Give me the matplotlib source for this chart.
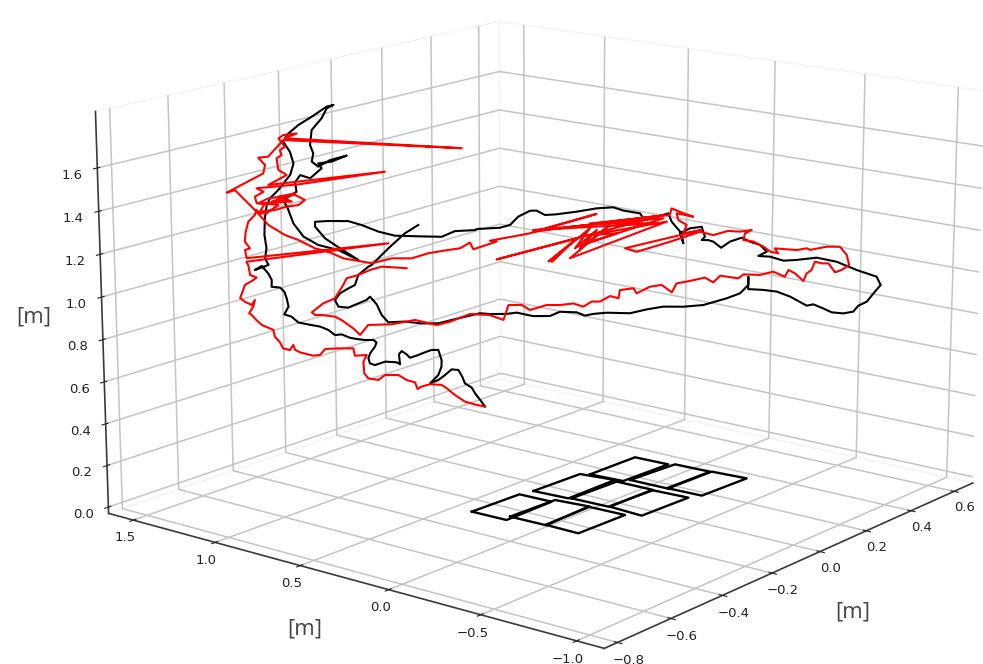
import numpy as np
import matplotlib
matplotlib.use('Agg')
import matplotlib.pyplot as plt

# trajectories in millimetres
black_x=[-188,-194,-205,-211,-223,-228,-234,-246,-258,-270,-284,-270,-264,-264,-269,-281,-293,-307,-319,-325,-333,-338,-336,-342,-362,-380,-389,-391,-388,-380,-377,-382,-397,-411,-423,-437,-449,-460,-474,-495,-512,-523,-536,-528,-531,-535,-542,-557,-556,-562,-573,-585,-561,-567,-564,-567,-566,-562,-556,-542,-521,-515,-521,-532,-526,-506,-483,-457,-445,-457,-466,-483,-486,-481,-484,-473,-453,-424,-450,-473,-467,-487,-504,-513,-511,-534,-526,-517,-500,-475,-441,-406,-438,-463,-480,-480,-457,-423,-400,-371,-343,-296,-262,-239,-204,-201,-161,-143,-129,-108,-97,-82,-62,-27,8,37,55,84,90,113,133,139,157,160,154,172,172,192,198,193,204,213,227,243,263,278,296,308,293,314,338,361,397,432,468,492,504,512,502,488,473,464,446,425,410,392,381,351,327,303,276,276,276,262,238,197,161,126,103,126,97,67,26,3,-12,-27,-56,-73,-103,-132,-149,-179,-196,-234,-269,-298,-327,-356,-367,-376,-387,-393,-407,-425,-442,-448,-439,-424,-413,-407,-389,-384,-354,-325,-302]
black_y=[454,465,486,496,518,526,539,560,581,602,629,602,592,591,602,623,644,671,692,702,718,727,724,734,771,803,819,824,818,802,797,807,834,860,881,907,928,949,975,1012,1043,1064,1086,1073,1078,1085,1098,1124,1124,1134,1154,1175,1133,1143,1138,1144,1141,1135,1124,1098,1060,1049,1059,1079,1068,1032,990,943,922,943,959,991,997,987,992,972,935,883,930,972,962,998,1029,1045,1041,1083,1070,1053,1022,976,914,851,908,955,985,985,943,881,839,787,735,651,588,546,483,478,404,372,346,309,288,262,225,161,98,45,13,-40,-51,-94,-131,-142,-174,-180,-169,-200,-200,-238,-249,-238,-260,-276,-301,-329,-367,-394,-426,-448,-421,-459,-502,-545,-610,-675,-740,-784,-806,-819,-801,-775,-748,-732,-700,-662,-634,-602,-580,-526,-482,-439,-390,-390,-390,-364,-321,-246,-182,-117,-75,-117,-64,-10,64,107,134,160,214,246,299,352,384,437,469,537,601,654,707,759,780,795,816,827,853,885,916,926,910,884,863,852,820,810,757,704,662]
black_z=[424,448,489,517,539,572,604,608,582,559,544,583,623,654,703,704,694,679,670,687,703,688,640,650,655,640,649,673,697,728,748,760,761,767,774,791,789,814,831,843,854,882,894,930,969,1001,1021,1026,1058,1089,1125,1107,1129,1160,1207,1270,1347,1409,1440,1477,1546,1599,1653,1700,1731,1775,1812,1857,1864,1849,1804,1751,1682,1643,1605,1581,1610,1629,1603,1596,1573,1528,1544,1511,1467,1430,1391,1320,1257,1216,1190,1140,1198,1246,1302,1325,1327,1324,1304,1271,1250,1243,1239,1264,1266,1271,1274,1286,1324,1350,1350,1328,1330,1340,1353,1356,1339,1324,1300,1306,1321,1281,1224,1177,1225,1247,1247,1253,1206,1190,1189,1181,1151,1179,1196,1176,1159,1126,1107,1102,1081,1083,1091,1069,1027,1004,992,951,920,873,855,827,820,827,847,868,862,908,934,944,950,1009,970,931,909,880,875,878,869,878,867,851,857,853,846,863,868,849,851,870,865,867,872,851,830,832,843,842,877,929,966,951,936,917,923,955,986,1008,1023,1070,1108,1115,1191,1260,1297]
red_x=[-188,-206,-223,-241,-255,-264,-284,-299,-306,-310,-325,-339,-363,-374,-392,-399,-400,-394,-415,-417,-443,-466,-475,-487,-510,-518,-521,-527,-539,-544,-553,-555,-575,-584,-592,-596,-589,-586,-592,-603,-611,-602,-588,-582,-593,-596,-599,-354,-598,-601,-592,-601,-599,-594,-583,-580,-574,-563,-542,-576,-559,-513,-497,-508,-528,-548,-574,-565,-519,-542,-513,-554,-525,-556,-579,-582,-567,-579,-507,-359,-519,-559,-527,-541,-544,-535,-538,-529,-540,-531,-509,-529,-226,-532,-558,-575,-564,-567,-630,-616,-580,-560,-532,-509,-481,-458,-432,-406,-383,-349,-314,-285,-250,-230,-213,-207,-166,-178,-108,8,-103,125,-167,-27,-76,-50,-71,-39,-4,-30,8,-21,31,-39,131,-4,43,-27,125,-103,113,-4,136,139,160,177,148,151,166,160,192,58,78,137,189,213,239,260,281,269,266,284,302,314,328,322,361,379,385,414,438,450,455,442,430,418,406,394,388,379,374,359,347,341,320,297,267,258,226,214,199,173,149,141,123,102,79,73,49,47,32,14,0,-15,-33,-56,-79,-109,-123,-146,-155,-179,-213,-248,-272,-309,-350,-391,-405,-417,-437,-448,-471,-483,-488,-468,-448,-433,-427,-407,-386,-366,-337,-323]
red_y=[454,486,518,550,576,592,629,656,669,677,703,730,772,793,825,837,840,829,866,871,918,960,977,998,1039,1055,1060,1071,1092,1102,1117,1122,1158,1174,1189,1197,1183,1177,1188,1209,1224,1208,1181,1171,1191,1196,1201,756,1201,1205,1190,1205,1202,1193,1172,1166,1156,1135,1099,1161,1129,1046,1015,1036,1073,1109,1156,1140,1057,1098,1046,1119,1067,1124,1166,1171,1144,1165,1035,764,1056,1128,1071,1096,1101,1085,1090,1074,1094,1079,1037,1074,524,1079,1127,1158,1137,1143,1258,1232,1166,1131,1080,1038,987,945,898,851,810,746,684,631,568,531,499,489,415,436,309,98,299,-115,415,161,251,203,240,182,119,166,97,150,55,182,-126,119,34,161,-115,299,-94,119,-136,-141,-179,-211,-157,-163,-190,-179,-238,7,-31,-137,-233,-275,-323,-361,-398,-377,-372,-404,-437,-459,-485,-474,-544,-577,-588,-641,-684,-707,-715,-691,-670,-648,-626,-604,-594,-578,-568,-540,-519,-508,-470,-427,-374,-358,-299,-277,-250,-202,-159,-144,-111,-74,-31,-21,22,27,54,86,113,139,171,214,256,309,336,378,394,437,500,564,606,675,749,823,849,870,906,927,969,990,1000,963,926,900,889,852,815,778,726,700]
red_z=[424,436,451,485,518,535,540,530,519,551,564,589,591,568,578,602,658,689,688,723,725,724,696,694,712,724,748,724,733,762,790,822,847,871,896,904,935,966,943,959,976,1038,1060,1071,1084,1131,1147,1215,1163,1202,1209,1241,1287,1334,1364,1387,1371,1370,1408,1418,1440,1452,1428,1405,1399,1385,1379,1417,1422,1446,1460,1424,1430,1416,1418,1449,1471,1488,1501,1550,1511,1502,1546,1570,1624,1639,1662,1677,1716,1731,1737,1716,1650,1708,1633,1629,1595,1556,1471,1482,1379,1316,1267,1242,1201,1183,1150,1136,1123,1144,1141,1163,1176,1182,1208,1176,1209,1214,1244,1327,1251,1313,1125,1214,1108,1161,1107,1184,1260,1167,1251,1167,1273,1121,1282,1228,1233,1175,1298,1259,1275,1283,1313,1344,1319,1302,1320,1288,1263,1224,1238,1161,1143,1186,1230,1212,1230,1225,1231,1216,1185,1176,1151,1126,1117,1141,1130,1137,1129,1142,1140,1100,1052,1029,1018,1062,1063,1072,1033,1017,981,1019,1036,1004,1030,1016,1021,1003,1018,987,1011,997,987,945,982,975,945,970,963,924,936,911,912,889,906,900,902,881,906,907,837,862,870,836,822,849,832,832,786,818,859,876,886,887,900,941,963,1025,1056,1070,1092,1106,1099,1095]
# floor rectangles, four corners each, metres
rect_x=[-0.319,-0.138,-0.135,-0.317,-0.291,-0.119,-0.107,-0.289,-0.287,-0.110,-0.106,-0.289,-0.095,0.089,0.104,-0.088,-0.083,0.096,0.098,-0.079,-0.077,0.095,0.102,-0.085,0.102,0.290,0.294,0.110,0.128,0.305,0.310,0.130,0.132,0.313,0.322,0.136]
rect_y=[0.338,0.329,0.148,0.142,0.160,0.151,-0.031,-0.035,-0.041,-0.025,-0.226,-0.221,0.310,0.301,0.120,0.119,0.108,0.099,-0.108,-0.096,-0.101,-0.102,-0.299,-0.290,0.262,0.259,0.071,0.081,0.066,0.047,-0.147,-0.140,-0.146,-0.153,-0.339,-0.329]
x_ticks=[-0.8,-0.6,-0.4,-0.2,0.0,0.2,0.4,0.6]
y_ticks=[-1.0,-0.5,0.0,0.5,1.0,1.5]
z_ticks=[0.0,0.2,0.4,0.6,0.8,1.0,1.2,1.4,1.6]

W,H=983,664
fig=plt.figure(figsize=(W/100,H/100),dpi=100)
ax=fig.add_axes([45.8868/W,20.5572/H,1,1],projection='3d')
ax.view_init(elev=14.7817,azim=-141.637)
ax.set_box_aspect((0.9956,1.0,0.6564),zoom=1.4225)
for a in (ax.xaxis,ax.yaxis,ax.zaxis):
    a.set_pane_color((1,1,1,1))
    a.pane.set_edgecolor('#f4f4f4')
    a._axinfo['grid']['color']='#c4c4c4'
    a._axinfo['grid']['linewidth']=1.1
    a._axinfo['axisline']['color']='#3a3a3a'
    a._axinfo['axisline']['linewidth']=1.2
    a._axinfo['tick']['inward_factor']=0.1
    a._axinfo['tick']['outward_factor']=0.07
    a._axinfo['tick']['color']='#333333'
    a.line.set_color('#3a3a3a')
    a.line.set_linewidth(1.2)
kw=dict(clip_on=False,solid_joinstyle='round')
ax.plot(np.array(black_x)/1000,np.array(black_y)/1000,np.array(black_z)/1000,color='black',lw=1.5,**kw)
ax.plot(np.array(red_x)/1000,np.array(red_y)/1000,np.array(red_z)/1000,color='red',lw=1.5,**kw)
gx=np.array(rect_x);gy=np.array(rect_y)
for i in range(0,len(gx),4):
    ax.plot(np.r_[gx[i:i+4],gx[i]],np.r_[gy[i:i+4],gy[i]],np.zeros(5),color='black',lw=1.7,**kw)
ax.set_xlim(-0.8481,0.6884);ax.set_ylim(-1.1403,1.6548);ax.set_zlim(-0.0307,1.859)
ax.set_xticks(x_ticks);ax.set_yticks(y_ticks);ax.set_zticks(z_ticks)
ax.tick_params(labelsize=9.5,pad=-3,colors='#222222')
ax.tick_params(axis='z',pad=-1)
ax.set_xlabel('[m]',fontsize=16,color='#444444',family='Open Sans',labelpad=3)
ax.set_ylabel('[m]',fontsize=16,color='#444444',family='Open Sans',labelpad=1)
ax.set_zlabel('[m]',fontsize=16,color='#444444',family='Open Sans',labelpad=-2)
fig.savefig('out.png',dpi=100)
